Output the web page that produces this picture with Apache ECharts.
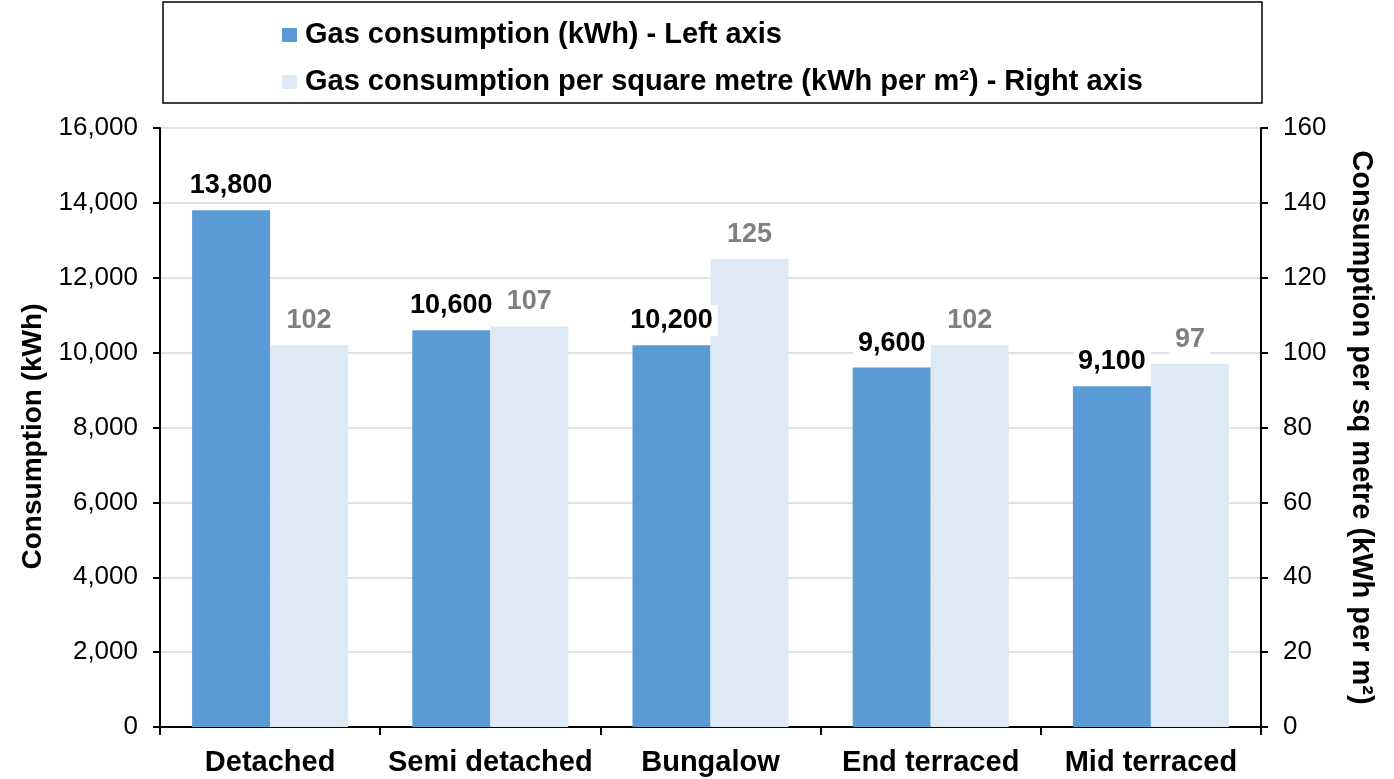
<!DOCTYPE html>
<html>
<head>
<meta charset="utf-8">
<script src="https://cdn.jsdelivr.net/npm/echarts@6/dist/echarts.min.js"></script>
<style>
  html, body { margin: 0; padding: 0; background: #ffffff; }
  #chart { width: 1394px; height: 779px; }
</style>
</head>
<body>
<div id="chart"></div>
<script>
// Dwelling types along the bottom axis
const categories = ['Detached', 'Semi detached', 'Bungalow', 'End terraced', 'Mid terraced'];
// Typical annual gas use per dwelling (kWh) - left axis
const gasConsumption = [13800, 10600, 10200, 9600, 9100];
// Gas use per square metre of floor area (kWh per m²) - right axis
const gasPerSqMetre = [102, 107, 125, 102, 97];
// Axis ranges
const leftAxisMax = 16000, leftAxisStep = 2000;
const rightAxisMax = 160, rightAxisStep = 20;

const seriesNames = [
  'Gas consumption (kWh) - Left axis',
  'Gas consumption per square metre (kWh per m²) - Right axis'
];

const FONT = '"Liberation Sans", Arial, Helvetica, sans-serif';
const fmt = v => Number(v).toLocaleString('en-US');

const chart = echarts.init(document.getElementById('chart'), null, { renderer: 'canvas' });

const valueLabel = color => ({
  show: true,
  position: 'top',
  distance: 9,
  color: color,
  fontFamily: FONT,
  fontWeight: 'bold',
  fontSize: 27,
  backgroundColor: '#ffffff',
  padding: [2, 5],
  formatter: p => fmt(p.value)
});

chart.setOption({
  animation: false,
  backgroundColor: '#ffffff',
  textStyle: { fontFamily: FONT },
  graphic: [{
    type: 'rect',
    shape: { x: 163, y: 2, width: 1099, height: 101 },
    style: { fill: 'none', stroke: '#000000', lineWidth: 1.5 },
    z: 0
  }],
  legend: {
    orient: 'vertical',
    left: 282,
    top: 19,
    padding: 0,
    itemWidth: 15,
    itemHeight: 14,
    itemGap: 15,
    icon: 'rect',
    data: seriesNames,
    textStyle: {
      color: '#000000',
      fontFamily: FONT,
      fontWeight: 'bold',
      fontSize: 29,
      lineHeight: 32,
      padding: [0, 0, 0, 3]
    }
  },
  grid: { left: 160, right: 133, top: 128, bottom: 52, containLabel: false },
  xAxis: {
    type: 'category',
    data: categories,
    axisLine: { lineStyle: { color: '#000000', width: 2 } },
    axisTick: { show: true, interval: 0, length: 8, lineStyle: { color: '#000000', width: 2 } },
    axisLabel: {
      interval: 0,
      color: '#000000',
      fontFamily: FONT,
      fontWeight: 'bold',
      fontSize: 29,
      margin: 21
    }
  },
  yAxis: [{
    type: 'value',
    min: 0,
    max: leftAxisMax,
    interval: leftAxisStep,
    name: 'Consumption (kWh)',
    nameLocation: 'middle',
    nameGap: 113,
    nameRotate: 90,
    nameTextStyle: { color: '#000000', fontFamily: FONT, fontWeight: 'bold', fontSize: 28, padding: [0, 18, 0, 0] },
    axisLine: { show: true, lineStyle: { color: '#000000', width: 2 } },
    axisTick: { show: true, length: 7, lineStyle: { color: '#000000', width: 2 } },
    axisLabel: { color: '#000000', fontFamily: FONT, fontSize: 26, margin: 22, formatter: fmt },
    splitLine: { show: true, lineStyle: { color: '#d9d9d9', width: 1.5 } }
  }, {
    type: 'value',
    position: 'right',
    min: 0,
    max: rightAxisMax,
    interval: rightAxisStep,
    name: 'Consumption per sq metre (kWh per m²)',
    nameLocation: 'middle',
    nameGap: 85,
    nameRotate: -90,
    nameTextStyle: { color: '#000000', fontFamily: FONT, fontWeight: 'bold', fontSize: 29 },
    axisLine: { show: true, lineStyle: { color: '#000000', width: 2 } },
    axisTick: { show: true, length: 7, lineStyle: { color: '#000000', width: 2 } },
    axisLabel: { color: '#000000', fontFamily: FONT, fontSize: 26, margin: 22, formatter: fmt },
    splitLine: { show: false }
  }],
  series: [{
    name: seriesNames[0],
    type: 'bar',
    yAxisIndex: 0,
    data: gasConsumption,
    barWidth: 78,
    barGap: '0%',
    itemStyle: { color: '#5b9bd5' },
    label: valueLabel('#000000')
  }, {
    name: seriesNames[1],
    type: 'bar',
    yAxisIndex: 1,
    data: gasPerSqMetre,
    barWidth: 78,
    barGap: '0%',
    itemStyle: { color: '#dde9f5' },
    label: valueLabel('#7f7f7f')
  }]
});
</script>
</body>
</html>
